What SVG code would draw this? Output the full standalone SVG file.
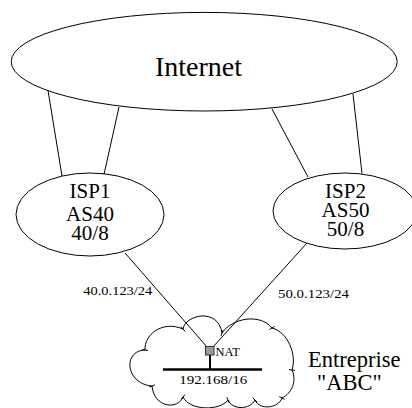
<svg xmlns="http://www.w3.org/2000/svg" width="412" height="408" viewBox="0 0 412 408">
  <style>
    .shape { fill: none; stroke: #000; stroke-width: 1; }
    .link { fill: none; stroke: #000; stroke-width: 1; }
    .label { font-family: "Liberation Serif", "Times New Roman", serif; fill: #000; }
    .big { font-size: 28px; }
    .mid { font-size: 21px; }
    .ent { font-size: 22.5px; }
    .small { font-size: 13px; }
  </style>
  <rect width="412" height="408" fill="#fff"/>

  <!-- connectors -->
  <g id="connectors">
    <line class="link" x1="48" y1="90.5" x2="62" y2="176"/>
    <line class="link" x1="119" y1="107" x2="104" y2="174.5"/>
    <line class="link" x1="272" y1="109" x2="308" y2="177"/>
    <line class="link" x1="353" y1="94" x2="362" y2="173.5"/>
    <line class="link" x1="125" y1="253" x2="207" y2="347"/>
    <line class="link" x1="307" y1="243" x2="213" y2="347"/>
  </g>

  <g id="internet">
    <ellipse class="shape" cx="204.2" cy="61.7" rx="193" ry="49.3"/>
    <text class="label big" x="198.5" y="76" text-anchor="middle">Internet</text>
  </g>

  <g id="isp1">
    <ellipse class="shape" cx="90" cy="214.5" rx="74" ry="41.5"/>
    <text class="label mid" x="90" y="198" text-anchor="middle">ISP1</text>
    <text class="label mid" x="90" y="220.5" text-anchor="middle">AS40</text>
    <text class="label mid" x="90" y="239.5" text-anchor="middle">40/8</text>
  </g>

  <g id="isp2">
    <ellipse class="shape" cx="345" cy="211" rx="72" ry="38"/>
    <text class="label mid" x="345.5" y="198" text-anchor="middle">ISP2</text>
    <text class="label mid" x="345.5" y="216.5" text-anchor="middle">AS50</text>
    <text class="label mid" x="345.5" y="236" text-anchor="middle">50/8</text>
  </g>

  <g id="link-labels">
    <text class="label small" x="83.3" y="295" textLength="69" lengthAdjust="spacingAndGlyphs">40.0.123/24</text>
    <text class="label small" x="278" y="298" textLength="71" lengthAdjust="spacingAndGlyphs">50.0.123/24</text>
  </g>

  <g id="entreprise">
    <!-- cloud outline -->
    <path class="shape" d="M145,350 C144,335 162,320 183,329 C185,315 218,307 222,333 C232,318 260,313 272,328 C288,332 297,355 292,370 C297,381 292,393 282,398 C278,409 259,410 255,400 C250,410 232,410 228,400 C220,411 190,411 183,397 C178,410 154,408 152,386 C126,384 122,351 145,350 Z"/>
    <!-- seams between cloud lobes -->
    <path class="shape" d="M142,349.5 L148,350.5 M181,326.7 L185,331.3 M223,330.2 L221,335.8 M274.6,326.5 L269.4,329.5 M295,370.3 L289,369.7 M284.7,399.4 L279.3,396.6 M257.2,402 L252.8,398 M229.2,402.8 L226.8,397.2 M181.1,399.3 L184.9,394.7 M149.2,387.1 L154.8,384.9"/>
    <!-- internal LAN with NAT router -->
    <line x1="163" y1="369.5" x2="262" y2="369.5" stroke="#000" stroke-width="2.5"/>
    <line x1="210" y1="355" x2="210" y2="369.5" stroke="#000" stroke-width="2"/>
    <rect x="205.5" y="346.5" width="8.5" height="8.5" fill="#999" stroke="#333" stroke-width="1"/>
    <text class="label" x="215.5" y="356" font-size="12.5">NAT</text>
    <text class="label small" x="179.3" y="384" textLength="68" lengthAdjust="spacingAndGlyphs">192.168/16</text>
    <text class="label ent" x="308" y="367">Entreprise</text>
    <text class="label ent" x="317" y="389.5">"ABC"</text>
  </g>
</svg>
